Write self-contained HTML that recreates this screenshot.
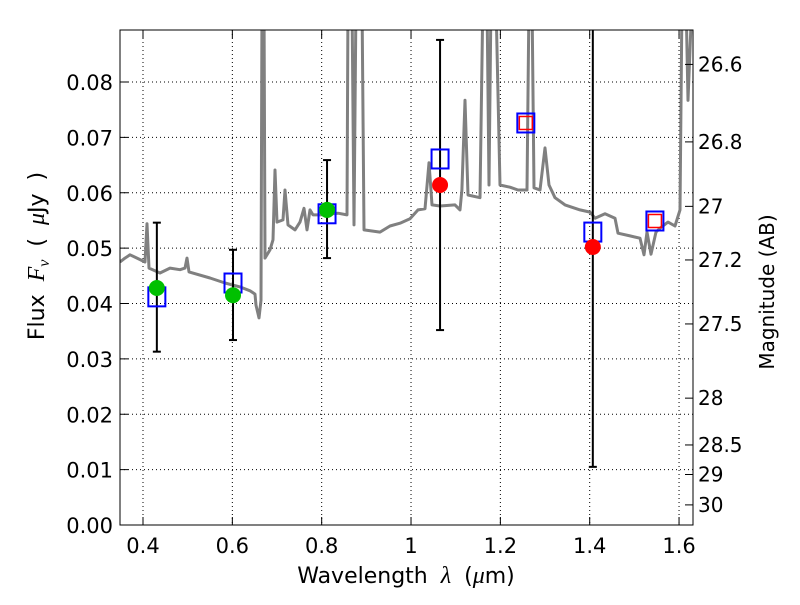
<!DOCTYPE html>
<html><head><meta charset="utf-8"><style>
body{margin:0;background:#fff;}
svg text{font-family:"DejaVu Sans","Liberation Sans",sans-serif;}
</style></head><body>
<svg id="chart" width="800" height="600" xmlns="http://www.w3.org/2000/svg"></svg>
<script>
const specLam=[0.3485,0.3597,0.3709,0.3866,0.4045,0.409,0.4134,0.4381,0.4604,0.4828,0.494,0.4985,0.503,0.55,0.5836,0.6171,0.6395,0.6507,0.653,0.6597,0.6642,0.6664,0.6709,0.6731,0.6843,0.691,0.6955,0.70,0.7134,0.7179,0.7246,0.7403,0.7515,0.7604,0.7671,0.7739,0.7806,0.7962,0.8365,0.8567,0.8589,0.8679,0.8724,0.8768,0.8903,0.8947,0.9306,0.953,0.9754,0.9977,1.0156,1.0313,1.0403,1.047,1.0649,1.0985,1.1097,1.114,1.1208,1.1276,1.1544,1.161,1.170,1.1746,1.179,1.190,1.1992,1.2216,1.2395,1.2596,1.2641,1.2708,1.2753,1.2887,1.2999,1.3089,1.3223,1.3447,1.3783,1.4007,1.4119,1.4342,1.4566,1.4633,1.4902,1.5126,1.5215,1.5282,1.5372,1.5484,1.5574,1.5753,1.591,1.6022,1.6067,1.6156,1.62,1.629];
const specFlux=[0.0475,0.0482,0.0488,0.0482,0.0475,0.0544,0.0464,0.0455,0.0464,0.0461,0.0464,0.0482,0.0457,0.0446,0.0437,0.043,0.0423,0.0417,0.0397,0.0374,0.0406,0.095,0.095,0.0482,0.0497,0.0515,0.0641,0.0547,0.0551,0.0605,0.0542,0.0533,0.0547,0.0572,0.0533,0.0569,0.056,0.056,0.0563,0.056,0.095,0.095,0.0542,0.095,0.095,0.0533,0.0529,0.054,0.0545,0.0553,0.0569,0.0571,0.0654,0.0578,0.0576,0.0578,0.0569,0.0605,0.0767,0.0596,0.0591,0.095,0.095,0.0614,0.095,0.095,0.0614,0.061,0.0605,0.0605,0.095,0.095,0.0609,0.0605,0.0681,0.0614,0.0591,0.0578,0.0569,0.0565,0.0554,0.0562,0.0554,0.0527,0.0522,0.0518,0.0488,0.0529,0.0489,0.0529,0.0536,0.0547,0.054,0.0569,0.095,0.095,0.0767,0.095];
const ptLam=[0.431,0.6015,0.812,1.065,1.257,1.407,1.546];
const modelFlux=[0.0412,0.0437,0.0562,0.0661,0.0726,0.0529,0.0549];
const obsFlux=[0.0428,0.0415,0.0569,0.0614,null,0.0502,null];
const obsHi=[0.0546,0.0497,0.0659,0.0876,null,0.1,null];
const obsLo=[0.0313,0.0334,0.0482,0.0352,null,0.0105,null];
const obsColor=['#00c000','#00c000','#00c000','#ff0000',null,'#ff0000',null];
const redSq=[false,false,false,false,true,false,true];
const xTicks=[0.4,0.6,0.8,1.0,1.2,1.4,1.6];
const xTickLabels=['0.4','0.6','0.8','1','1.2','1.4','1.6'];
const yTicks=[0,0.01,0.02,0.03,0.04,0.05,0.06,0.07,0.08];
const magTicks=[26.6,26.8,27,27.2,27.5,28,28.5,29,30];

const L=120,R=693,T=30,B=525;
const X0=0.4-(143-L)/446.7,X1=X0+(R-L)/446.7,Y1=(B-T)/5537.5;
const sx=v=>L+(v-X0)/(X1-X0)*(R-L);
const sy=v=>B-v/Y1*(B-T);
const svg=document.getElementById('chart');
const NS='http://www.w3.org/2000/svg';
function mk(t,a,p){const e=document.createElementNS(NS,t);for(const k in a)e.setAttribute(k,a[k]);(p||svg).appendChild(e);return e;}
const defs=mk('defs',{});const cp=mk('clipPath',{id:'clip'},defs);mk('rect',{x:L,y:T,width:R-L,height:B-T},cp);
const grid=mk('g',{});


xTicks.forEach(v=>mk('line',{x1:sx(v),x2:sx(v),y1:T,y2:B,stroke:'#000','stroke-dasharray':'1,3','stroke-width':1},grid));
yTicks.forEach(v=>mk('line',{x1:L,x2:R,y1:sy(v),y2:sy(v),stroke:'#000','stroke-dasharray':'1,3','stroke-width':1},grid));
const g=mk('g',{'clip-path':'url(#clip)'});
let d='';specLam.forEach((l,i)=>{d+=(i?'L':'M')+sx(l).toFixed(1)+','+sy(specFlux[i]).toFixed(1);});
const sp=mk('path',{d:d,fill:'none',stroke:'#808080','stroke-width':3,'stroke-linejoin':'round'},g);


ptLam.forEach((l,i)=>{if(obsFlux[i]===null)return;const x=sx(l);
 const eb=mk('g',{},g);
 
 
 mk('line',{x1:x,x2:x,y1:sy(obsHi[i]),y2:sy(obsLo[i]),stroke:'#000','stroke-width':2},eb);
 [obsHi[i],obsLo[i]].forEach(v=>mk('line',{x1:x-4,x2:x+4,y1:sy(v),y2:sy(v),stroke:'#000','stroke-width':2},eb));});
ptLam.forEach((l,i)=>{const x=sx(l),y=sy(modelFlux[i]);
 const s=mk('rect',{x:x-8.5,y:y-9.5,width:17,height:19,fill:'none',stroke:'#0000ff','stroke-width':2},g);
 
 
 if(redSq[i]){const r=mk('rect',{x:x-6.5,y:y-6.5,width:13,height:13,fill:'none',stroke:'#ff0000','stroke-width':1.5},g);
 
 }});
ptLam.forEach((l,i)=>{if(obsFlux[i]===null)return;
 const c=mk('circle',{cx:sx(l),cy:sy(obsFlux[i]),r:8,fill:obsColor[i]},g);
 
 });
const fr=mk('rect',{x:L,y:T,width:R-L,height:B-T,fill:'none',stroke:'#000','stroke-width':1});


xTicks.forEach((v,i)=>{const x=sx(v);mk('line',{x1:x,x2:x,y1:B,y2:B-8,stroke:'#000'});mk('line',{x1:x,x2:x,y1:T,y2:T+8,stroke:'#000'});
 const t=mk('text',{x:x,y:B+28,'font-size':21,'text-anchor':'middle'});t.textContent=xTickLabels[i];
 
 });
yTicks.forEach(v=>{const y=sy(v);mk('line',{x1:L,x2:L+8,y1:y,y2:y,stroke:'#000'});
 const t=mk('text',{x:L-7,y:y+8,'font-size':21,'text-anchor':'end'});t.textContent=v.toFixed(2);
 
 });
magTicks.forEach(m=>{const f=Math.pow(10,(23.9-m)/2.5);const y=sy(f);mk('line',{x1:R,x2:R-8,y1:y,y2:y,stroke:'#000'});
 const t=mk('text',{x:R+5,y:y+7,'font-size':20});t.textContent=String(m);
 
 });
let t=mk('text',{x:406,y:583,'font-size':22,'text-anchor':'middle','word-spacing':'6px'});
t.innerHTML='Wavelength <tspan font-style="italic" font-family="Liberation Serif" font-size="24">λ</tspan> (<tspan font-style="italic" font-family="Liberation Serif" font-size="24">μ</tspan>m)';


t=mk('text',{x:0,y:0,'font-size':22,'text-anchor':'middle','word-spacing':'6px',transform:'translate(44,256) rotate(-90)'});
t.innerHTML='Flux <tspan font-style="italic" font-family="Liberation Serif" font-size="24">F<tspan font-size="16" dy="5">ν</tspan></tspan><tspan dy="-5"> ( </tspan><tspan font-style="italic" font-family="Liberation Serif" font-size="24">μ</tspan>Jy )';


t=mk('text',{x:0,y:0,'font-size':20,'text-anchor':'middle',transform:'translate(774,292) rotate(-90)'});
t.textContent='Magnitude (AB)';


</script>
</body></html>
